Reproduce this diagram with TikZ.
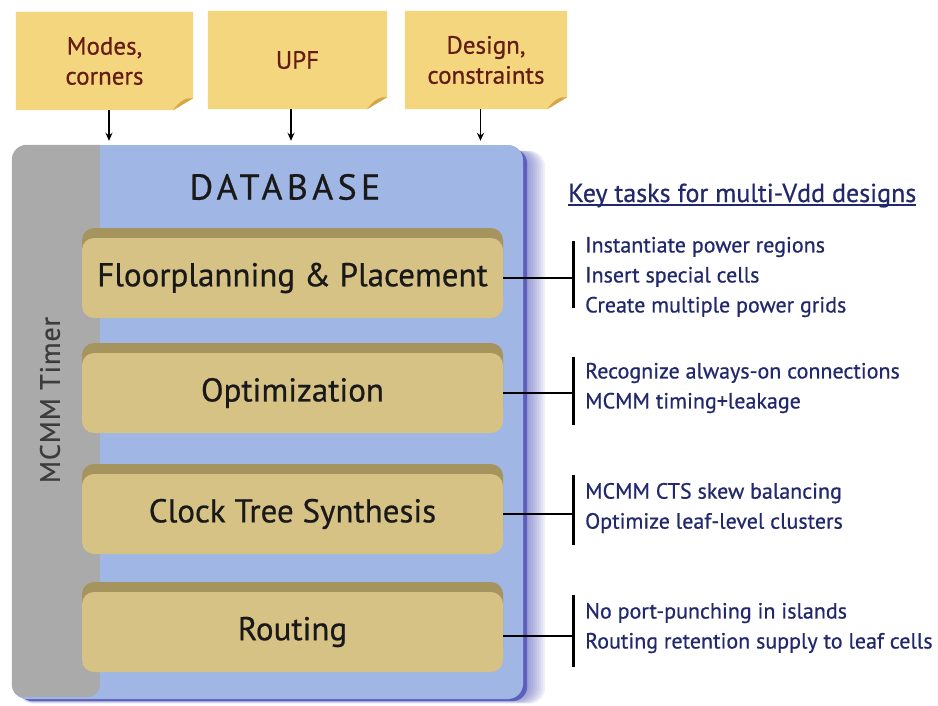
\documentclass[tikz,border=0pt]{standalone}
\usepackage{fontspec}
\setmainfont[FakeBold=0.6]{PT Sans}
\newfontfamily\spacedfont[LetterSpace=3,FakeBold=0.6]{PT Sans}
\newfontfamily\widefont[LetterSpace=12,FakeBold=0.6]{PT Sans}
\usetikzlibrary{arrows.meta,calc,backgrounds}
\definecolor{dbblue}{RGB}{160,182,228}
\definecolor{dbshadow}{RGB}{92,96,188}
\definecolor{timergray}{RGB}{170,170,170}
\definecolor{timertext}{RGB}{60,60,60}
\definecolor{notefill}{RGB}{243,214,125}
\definecolor{notecurl}{RGB}{212,166,70}
\definecolor{notetext}{RGB}{100,28,20}
\definecolor{stagefill}{RGB}{214,194,133}
\definecolor{stagedark}{RGB}{166,148,94}
\definecolor{navy}{RGB}{34,40,108}
\tikzset{
  note/.style={minimum width=#1, minimum height=98pt, inner sep=0pt, align=center,
    text=notetext, font=\fontsize{25}{30}\selectfont},
  stage/.style={fill=stagefill, rounded corners=12pt, minimum width=421pt, minimum height=80pt,
    inner sep=0pt, font=\fontsize{33}{38}\selectfont, text=black!90,
    preaction={fill=stagedark, transform canvas={yshift=10pt}}},
  arr/.style={-{Stealth[length=8pt,width=7pt]}, line width=1.4pt, shorten >=4pt},
  conn/.style={line width=2.4pt, black},
  bar/.style={line width=3pt, black},
  task/.style={anchor=west, align=left, inner sep=0pt, text=navy,
    font=\fontsize{22}{30}\selectfont},
}
\begin{document}
\begin{tikzpicture}[x=1pt,y=-1pt]
\useasboundingbox (0,0) rectangle (938,705);

% input notes
\node[note=177pt] (n1) at (104.5,61) {Modes,\\corners};
\node[note=179pt] (n2) at (297.5,60) {UPF};
\node[note=162pt] (n3) at (486,60) {Design,\\constraints};

% database
\node[fill=dbblue, rounded corners=15pt, minimum width=511pt, minimum height=554pt, inner sep=0pt]
  (db) at (267.5,422) {};

\begin{scope}[on background layer]
\fill[white] (0,0) rectangle (938,705);
\foreach \n in {n1,n2,n3}{
  \fill[notefill] (\n.north west) -- (\n.north east) -- ($(\n.south east)+(0,-12)$)
     -- ($(\n.south east)+(-20,0)$) -- (\n.south west) -- cycle;
  \fill[notecurl] ($(\n.south east)+(-20,0)$) -- ($(\n.south east)+(0,-12)$)
     .. controls ($(\n.south east)+(-7,-13)$) and ($(\n.south east)+(-14,-9)$) .. cycle;
}
\foreach \k in {2,4,...,22}{
  \fill[dbshadow, opacity=0.09, rounded corners=16pt] ($(db.north west)+(6,6)$) rectangle ($(db.south east)+(\k,0.2*\k)$);
}
\fill[dbshadow, rounded corners=15pt] ($(db.north west)+(6,4)$) rectangle ($(db.south east)+(4,2)$);
\end{scope}

\begin{scope}
\clip[rounded corners=15pt] (db.north west) rectangle (db.south east);
\fill[timergray] (db.north west) -- ($(db.north west)+(88,0)$) [rounded corners=12pt] -- ($(db.south west)+(88,-2)$) -- ($(db.south west)+(0,-2)$) [sharp corners] -- cycle;
\end{scope}
\node[rotate=90, text=timertext, font=\spacedfont\fontsize{28}{30}\selectfont] (timer) at (50,400) {MCMM Timer};
\node[font=\widefont\fontsize{36}{40}\selectfont, text=black!90] (dbl) at (285,187) {DATABASE};

% arrows from notes
\draw[arr] ([xshift=4.5pt]n1.south) -- ([xshift=4.5pt]n1.south |- db.north);
\draw[arr] ([xshift=-6.5pt]n2.south) -- ([xshift=-6.5pt]n2.south |- db.north);
\draw[arr] ([xshift=-5.5pt]n3.south) -- ([xshift=-5.5pt]n3.south |- db.north);

% stages
\node[stage] (fp) at (292.5,278) {Floorplanning \& Placement};
\node[stage] (opt) at (292.5,393) {Optimization};
\node[stage] (cts) at (292.5,514) {Clock Tree Synthesis};
\node[stage] (rt) at (292.5,632) {Routing};

% key tasks
\node[anchor=base west, inner sep=0pt, text=navy, font=\fontsize{26}{30}\selectfont] (title) at (568,202) {Key tasks for multi-Vdd designs};
\draw[navy, line width=1.8pt] ([yshift=-3pt]title.base west) -- ([yshift=-3pt]title.base east);

\node[task] (t1) at (585,277) {Instantiate power regions\\Insert special cells\\Create multiple power grids};
\node[task] (t2) at (585,388) {Recognize always-on connections\\MCMM timing+leakage};
\node[task] (t3) at (585,508) {MCMM CTS skew balancing\\Optimize leaf-level clusters};
\node[task] (t4) at (585,628) {No port-punching in islands\\Routing retention supply to leaf cells};

% connectors and bars
\coordinate (b1t) at (573,241); \coordinate (b1b) at (573,308);
\coordinate (b2t) at (573,357); \coordinate (b2b) at (573,425);
\coordinate (b3t) at (573,475); \coordinate (b3b) at (573,545);
\coordinate (b4t) at (573,595); \coordinate (b4b) at (573,667);
\draw[bar] (b1t) -- (b1b);
\draw[bar] (b2t) -- (b2b);
\draw[bar] (b3t) -- (b3b);
\draw[bar] (b4t) -- (b4b);
\draw[conn] (fp.east) -- (fp.east -| b1t);
\draw[conn] (opt.east) -- (opt.east -| b2t);
\draw[conn] (cts.east) -- (cts.east -| b3t);
\draw[conn] ([yshift=-4pt]rt.east) -- ([yshift=-4pt]rt.east -| b4t);
\end{tikzpicture}
\end{document}
